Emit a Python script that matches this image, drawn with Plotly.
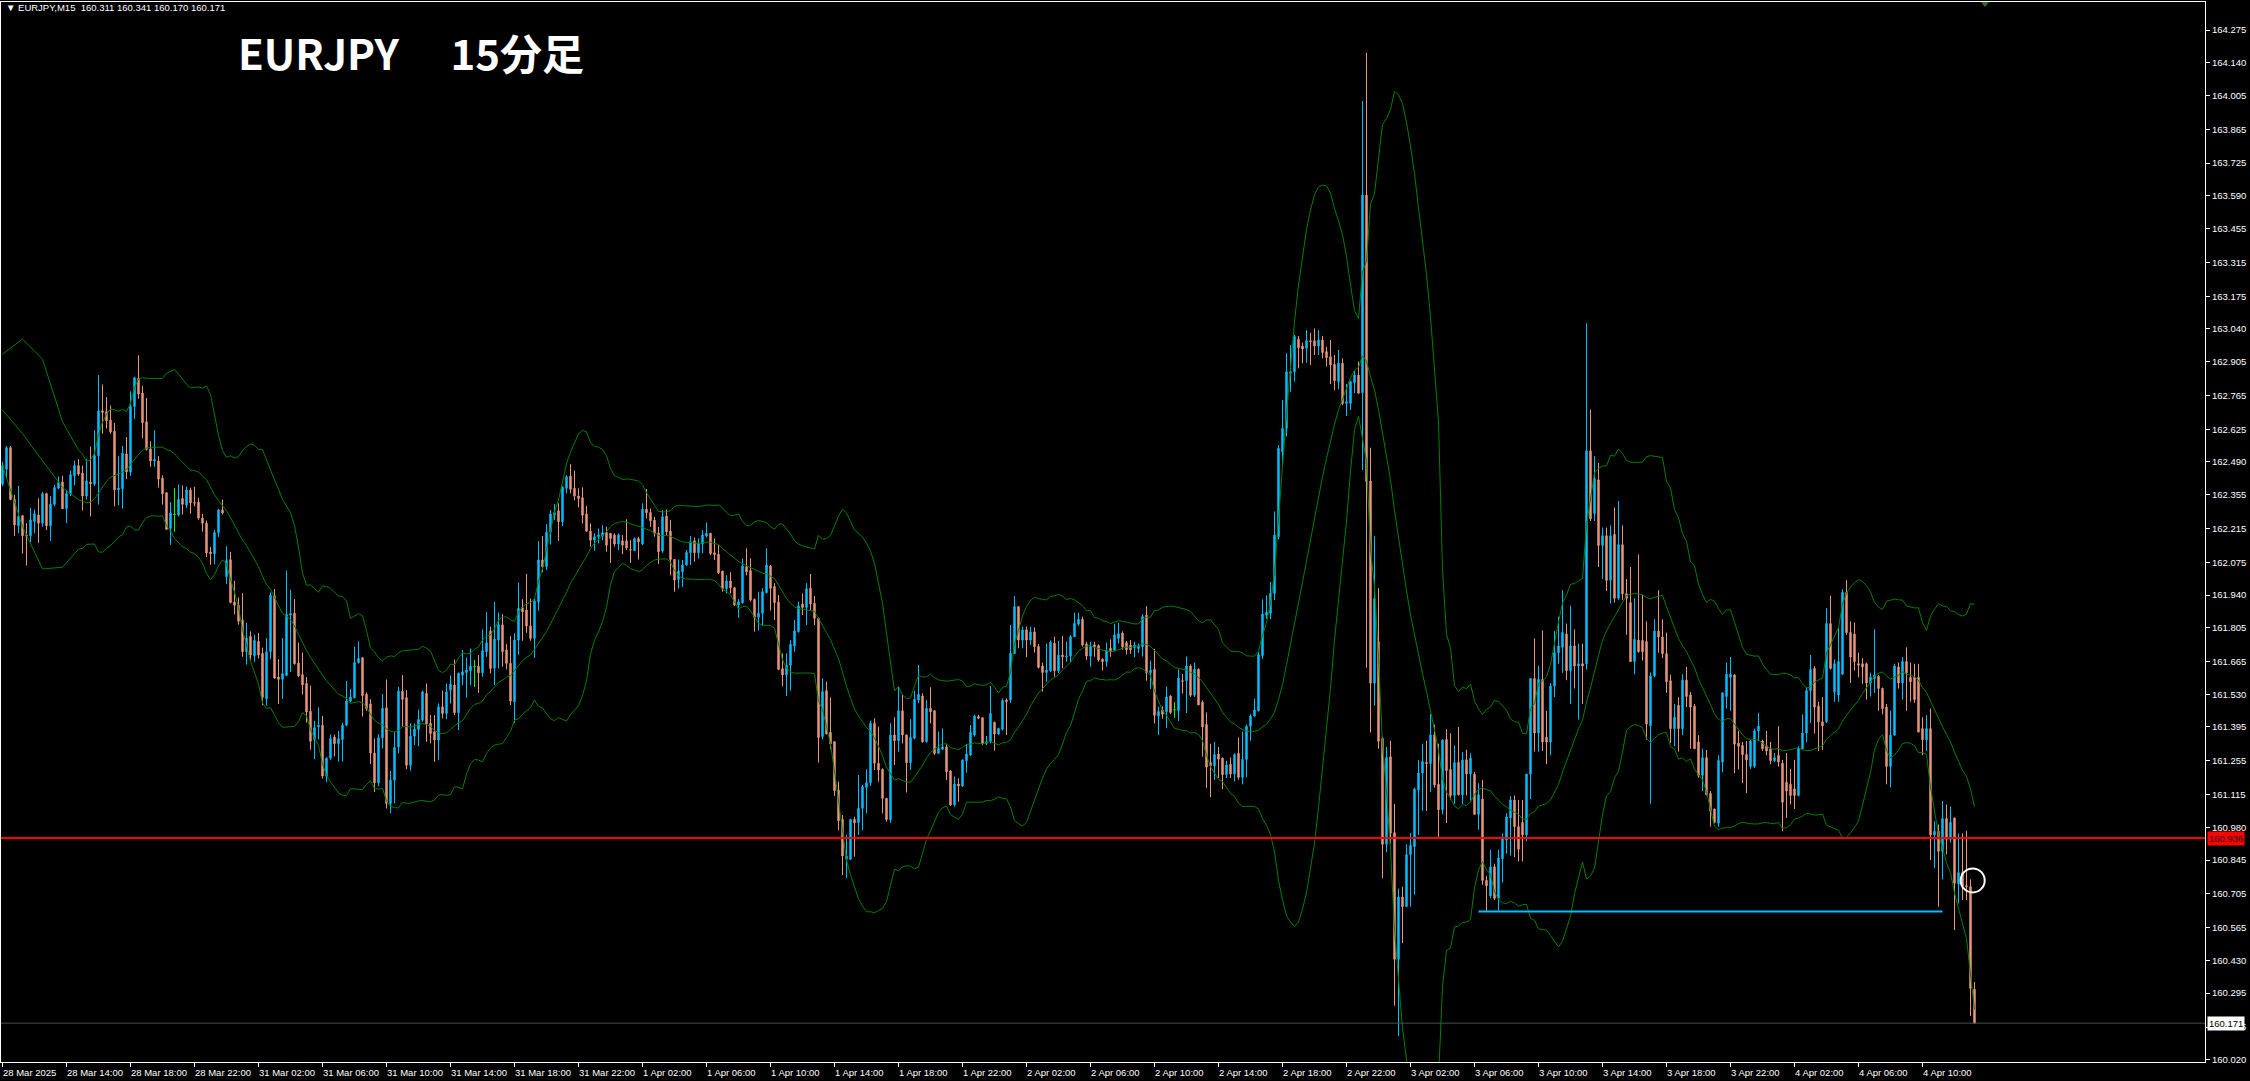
import plotly.graph_objects as go
import pandas as pd

title_text = "EURJPY\u3000\u00a015分足"
header_text = "\u25BC EURJPY,M15\u00a0\u00a0160.311 160.341 160.170 160.171"

open_ = [
162.398,162.460,162.549,162.335,162.227,162.268,162.189,162.185,162.244,162.271,
162.237,162.359,162.226,162.315,162.382,162.407,162.297,162.359,162.433,162.475,
162.444,162.349,162.407,162.398,162.516,162.701,162.698,162.663,162.617,162.375,
162.379,162.523,162.449,162.719,162.835,162.775,162.656,162.544,162.494,162.494,
162.423,162.363,162.216,162.273,162.271,162.339,162.312,162.374,162.322,162.324,
162.258,162.237,162.118,162.111,162.198,162.292,162.016,162.086,161.911,161.898,
161.836,161.706,161.769,161.689,161.748,161.699,161.511,161.706,161.937,161.601,
161.592,161.608,161.857,161.865,161.659,161.611,161.575,161.460,161.343,161.396,
161.402,161.192,161.266,161.353,161.326,161.343,161.402,161.502,161.516,161.661,
161.681,161.530,161.490,161.287,161.164,161.350,161.474,161.079,161.175,161.313,
161.543,161.516,161.237,161.357,161.385,161.423,161.534,161.410,161.375,161.341,
161.478,161.451,161.547,161.568,161.454,161.609,161.620,161.627,161.644,161.646,
161.619,161.706,161.791,161.638,161.754,161.817,161.713,161.658,161.499,161.754,
161.888,161.878,161.812,161.761,161.912,162.085,162.057,162.200,162.270,162.288,
162.243,162.381,162.432,162.381,162.349,162.342,162.275,162.204,162.167,162.181,
162.184,162.199,162.195,162.188,162.151,162.164,162.164,162.128,162.123,162.173,
162.151,162.295,162.281,162.250,162.197,162.122,162.266,162.204,162.087,162.005,
162.036,162.064,162.115,162.164,162.115,162.151,162.184,162.195,162.115,162.109,
162.039,161.967,161.998,161.970,161.899,161.908,162.057,162.041,161.922,161.848,
161.865,161.950,162.060,161.975,161.911,161.636,161.610,161.650,161.730,161.789,
161.903,161.889,161.968,161.906,161.844,161.355,161.545,161.373,161.334,161.134,
161.013,160.848,160.848,161.013,160.999,161.059,161.145,161.165,161.410,161.245,
161.220,161.100,161.011,161.362,161.338,161.462,161.362,161.247,161.348,161.506,
161.523,161.334,161.472,161.462,161.286,161.303,161.313,161.213,161.073,161.159,
161.151,161.255,161.279,161.362,161.438,161.433,161.327,161.334,161.414,161.366,
161.385,161.506,161.506,161.699,161.892,161.754,161.796,161.754,161.787,161.727,
161.647,161.620,161.627,161.741,161.627,161.692,161.685,161.688,161.768,161.820,
161.840,161.738,161.688,161.734,161.731,161.675,161.665,161.720,161.713,161.761,
161.783,161.743,161.733,161.723,161.719,161.726,161.857,161.619,161.633,161.440,
161.465,161.458,161.523,161.466,161.462,161.586,161.586,161.647,161.526,161.633,
161.497,161.405,161.248,161.234,161.283,161.266,161.198,161.241,161.201,161.286,
161.187,161.261,161.398,161.440,161.462,161.690,161.857,161.865,161.947,162.181,
162.533,162.629,162.856,162.863,162.997,162.969,162.960,162.991,162.991,162.969,
162.994,162.946,162.925,162.893,162.822,162.898,162.732,162.732,162.818,162.849,
162.776,163.593,162.411,161.576,161.747,161.348,160.910,161.272,160.958,160.435,
160.692,160.653,160.867,160.901,161.134,161.205,161.248,161.244,161.362,161.158,
161.053,161.343,161.219,161.112,161.248,161.115,161.259,161.201,161.200,161.034,
161.097,160.761,160.697,160.817,160.687,160.850,160.927,161.019,161.093,160.983,
161.000,160.949,161.200,161.595,161.370,161.591,161.352,161.333,161.564,161.702,
161.724,161.779,161.628,161.730,161.647,161.656,161.656,162.536,162.277,162.416,
162.145,162.185,162.001,162.191,161.927,162.148,161.945,161.909,161.665,161.754,
161.752,161.748,161.400,161.606,161.791,161.767,161.698,161.586,161.388,161.484,
161.388,161.588,161.527,161.481,161.333,161.195,161.268,161.120,161.056,160.997,
161.250,161.521,161.600,161.610,161.328,161.318,161.281,161.232,161.232,161.379,
161.337,161.318,161.305,161.256,161.278,161.245,161.167,161.158,161.139,161.112,
161.305,161.370,161.545,161.637,161.481,161.416,161.416,161.822,161.540,161.527,
161.613,161.951,161.785,161.779,161.656,161.656,161.656,161.577,161.595,161.604,
161.554,161.477,161.232,161.361,161.643,161.577,161.665,161.600,161.600,161.600,
161.388,161.342,161.388,160.949,160.964,160.881,161.016,160.931,161.019,160.746,
160.793,160.739,160.735,160.311]

high = [
162.491,162.556,162.556,162.354,162.391,162.271,162.237,162.300,162.293,162.340,
162.366,162.363,162.349,162.395,162.430,162.433,162.374,162.454,162.495,162.502,
162.475,162.502,162.554,162.621,162.849,162.810,162.758,162.723,162.652,162.514,
162.556,162.593,162.782,162.840,162.931,162.804,162.754,162.575,162.621,162.514,
162.435,162.363,162.324,162.382,162.397,162.393,162.388,162.384,162.388,162.342,
162.276,162.248,162.139,162.209,162.296,162.335,162.142,162.118,161.999,161.930,
161.948,161.825,161.790,161.776,161.783,161.723,161.762,161.951,161.965,161.675,
161.762,162.041,161.962,161.923,161.744,161.703,161.601,161.566,161.420,161.476,
161.441,161.270,161.364,161.364,161.378,161.413,161.585,161.552,161.727,161.748,
161.681,161.538,161.510,161.347,161.365,161.531,161.591,161.213,161.375,161.561,
161.609,161.547,161.410,161.410,161.467,161.545,161.575,161.444,161.444,161.492,
161.545,161.575,161.608,161.674,161.620,161.713,161.682,161.719,161.671,161.692,
161.798,161.870,161.809,161.912,161.867,161.861,161.737,161.770,161.782,161.992,
161.923,162.027,161.926,161.926,162.163,162.184,162.233,162.291,162.316,162.319,
162.390,162.436,162.481,162.454,162.381,162.385,162.308,162.236,162.195,162.215,
162.229,162.222,162.195,162.195,162.195,162.188,162.253,162.167,162.178,162.181,
162.319,162.378,162.298,162.263,162.222,162.291,162.294,162.250,162.089,162.087,
162.085,162.126,162.184,162.178,162.174,162.208,162.240,162.197,162.174,162.146,
162.039,162.022,162.034,161.974,161.923,162.091,162.133,162.092,161.926,161.954,
161.968,162.133,162.064,161.989,161.940,161.699,161.699,161.754,161.837,161.913,
161.947,161.989,162.027,161.936,161.847,161.596,161.582,161.517,161.334,161.169,
161.031,160.949,161.013,161.024,161.197,161.155,161.220,161.421,161.431,161.396,
161.224,161.100,161.410,161.435,161.561,161.527,161.362,161.427,161.545,161.651,
161.534,161.506,161.559,161.465,161.376,161.389,161.323,161.217,161.190,161.183,
161.261,161.325,161.403,161.445,161.445,161.435,161.358,161.564,161.417,161.389,
161.513,161.513,161.816,161.936,161.892,161.810,161.810,161.810,161.807,161.738,
161.661,161.740,161.752,161.768,161.750,161.771,161.747,161.775,161.867,161.867,
161.851,161.747,161.747,161.747,161.736,161.679,161.743,161.757,161.820,161.825,
161.790,161.751,161.754,161.747,161.740,161.861,161.894,161.669,161.718,161.479,
161.480,161.562,161.526,161.497,161.633,161.614,161.686,161.654,161.661,161.637,
161.505,161.455,161.326,161.333,161.312,161.269,161.255,161.269,161.286,161.352,
161.376,161.405,161.448,161.512,161.704,161.922,161.939,161.994,162.285,162.560,
162.746,162.939,162.973,163.015,163.011,162.983,163.035,163.024,163.042,163.035,
163.011,162.966,162.994,162.932,162.953,162.918,162.812,162.826,162.867,162.905,
163.982,164.181,162.549,162.184,161.968,161.355,161.312,161.338,161.077,160.727,
160.735,160.910,160.956,161.144,161.258,161.326,161.338,161.448,161.405,161.326,
161.343,161.386,161.369,161.319,161.395,161.291,161.301,161.286,161.210,161.162,
161.176,160.780,160.887,160.830,160.887,160.955,161.038,161.108,161.112,161.093,
161.093,161.200,161.595,161.761,161.647,161.794,161.462,161.577,161.791,161.850,
161.960,161.822,161.896,161.798,161.739,161.739,163.063,162.707,162.514,162.486,
162.219,162.219,162.228,162.302,162.329,162.228,162.006,162.056,161.927,162.108,
161.942,161.831,161.620,161.840,161.960,161.840,161.785,161.611,161.490,161.518,
161.613,161.643,161.540,161.490,161.361,161.305,161.300,161.130,161.056,161.278,
161.536,161.661,161.684,161.613,161.379,161.333,161.337,161.340,161.388,161.453,
161.342,161.379,161.333,161.287,161.398,161.259,161.287,161.222,161.259,161.315,
161.447,161.558,161.693,161.646,161.499,161.518,161.886,161.938,161.674,161.804,
161.964,162.001,161.831,161.827,161.702,161.680,161.661,161.619,161.798,161.610,
161.558,161.490,161.462,161.656,161.661,161.684,161.724,161.661,161.656,161.656,
161.435,161.444,161.471,161.005,160.992,161.089,161.075,161.066,161.019,160.955,
160.955,160.966,160.765,160.341]

low = [
162.391,162.421,162.332,162.185,162.195,162.111,162.062,162.159,162.195,162.156,
162.222,162.209,162.164,162.307,162.377,162.297,162.237,162.349,162.393,162.433,
162.290,162.335,162.265,162.391,162.314,162.607,162.628,162.606,162.307,162.311,
162.297,162.419,162.433,162.667,162.751,162.589,162.537,162.470,162.470,162.384,
162.314,162.209,162.148,162.202,162.265,162.273,162.300,162.276,162.307,162.251,
162.202,162.097,162.065,162.067,162.181,162.273,161.986,161.906,161.860,161.818,
161.685,161.653,161.671,161.664,161.678,161.485,161.483,161.675,161.594,161.490,
161.511,161.605,161.622,161.653,161.601,161.529,161.413,161.301,161.262,161.343,
161.182,161.168,161.259,161.273,161.252,161.252,161.399,161.497,161.513,161.657,
161.438,161.462,161.242,161.126,161.150,161.306,161.058,161.038,161.079,161.286,
161.396,161.220,161.214,161.320,161.316,161.416,161.334,161.327,161.251,161.258,
161.430,161.427,161.492,161.444,161.382,161.568,161.516,161.568,161.561,161.536,
161.602,161.685,161.616,161.568,161.637,161.644,161.633,161.485,161.412,161.693,
161.751,161.784,161.751,161.680,161.875,162.034,162.043,162.149,162.250,162.164,
162.225,162.360,162.360,162.332,162.302,162.236,162.202,162.140,162.123,162.153,
162.167,162.119,162.073,162.140,162.126,162.109,162.126,162.073,162.123,162.087,
162.146,162.257,162.222,162.181,162.068,162.115,162.188,162.022,161.954,161.967,
161.974,162.062,162.064,162.078,162.091,162.112,162.178,162.105,162.085,162.027,
161.954,161.947,161.947,161.894,161.846,161.905,162.022,161.913,161.789,161.793,
161.812,161.947,161.876,161.837,161.630,161.564,161.523,161.545,161.706,161.785,
161.858,161.816,161.878,161.816,161.248,161.344,161.366,161.303,161.110,160.969,
160.783,160.770,160.845,160.859,160.949,160.969,161.038,161.151,161.217,161.169,
161.038,161.004,160.999,161.238,161.293,161.327,161.124,161.217,161.344,161.493,
161.330,161.330,161.410,161.279,161.283,161.300,161.176,161.069,161.066,161.086,
161.148,161.206,161.275,161.355,161.427,161.320,161.320,161.327,161.297,161.362,
161.380,161.362,161.495,161.699,161.720,161.720,161.683,161.734,161.702,161.637,
161.541,161.582,161.623,161.603,161.617,161.637,161.665,161.661,161.768,161.812,
161.727,161.672,161.644,161.685,161.665,161.628,161.644,161.685,161.710,161.740,
161.714,161.694,161.697,161.683,161.700,161.686,161.586,161.552,161.409,161.362,
161.429,161.390,161.448,161.433,161.419,161.533,161.452,161.519,161.519,161.486,
161.272,161.144,161.105,161.177,161.184,161.138,161.184,161.184,161.170,161.177,
161.158,161.187,161.338,161.437,161.459,161.676,161.842,161.840,161.920,162.170,
162.471,162.595,162.780,162.822,162.877,162.898,162.900,162.891,162.932,162.932,
162.918,162.884,162.812,162.787,162.790,162.725,162.680,162.705,162.774,162.774,
162.457,161.640,161.372,161.483,161.305,160.770,160.877,160.913,160.243,160.117,
160.502,160.653,160.653,160.702,160.948,161.048,161.048,161.127,161.144,160.941,
161.034,160.998,161.095,161.077,161.112,161.077,161.112,161.091,161.034,160.970,
160.743,160.632,160.687,160.680,160.636,160.752,160.872,160.863,160.857,160.839,
160.839,160.924,161.097,161.293,161.293,161.296,161.241,161.278,161.518,161.656,
161.619,161.588,161.490,161.554,161.425,161.490,161.632,162.246,162.246,162.056,
162.006,161.957,161.905,161.909,161.920,161.920,161.776,161.665,161.613,161.702,
161.669,161.342,161.078,161.600,161.702,161.680,161.536,161.329,161.315,161.293,
161.361,161.477,161.305,161.305,161.186,161.130,161.112,160.983,160.997,160.983,
161.208,161.471,161.462,161.204,161.219,161.163,161.121,161.222,161.226,161.337,
161.296,161.278,161.241,161.250,161.232,160.964,161.019,161.075,161.056,161.108,
161.305,161.333,161.411,161.368,161.296,161.300,161.411,161.632,161.499,161.499,
161.610,161.776,161.577,161.628,161.600,161.573,161.508,161.521,161.536,161.462,
161.447,161.158,161.145,161.361,161.554,161.508,161.462,161.499,161.495,161.374,
161.278,161.296,160.845,160.811,160.652,160.765,160.868,160.918,160.556,160.666,
160.680,160.680,160.201,160.170]

close = [
162.475,162.549,162.335,162.230,162.265,162.185,162.185,162.250,162.276,162.237,
162.359,162.226,162.315,162.384,162.405,162.297,162.359,162.437,162.475,162.440,
162.349,162.412,162.400,162.516,162.701,162.695,162.660,162.614,162.375,162.382,
162.526,162.449,162.719,162.838,162.771,162.653,162.542,162.494,162.500,162.419,
162.359,162.212,162.279,162.273,162.335,162.315,162.374,162.321,162.320,162.258,
162.237,162.114,162.111,162.198,162.292,162.279,162.083,161.909,161.898,161.832,
161.706,161.762,161.692,161.752,161.692,161.518,161.706,161.939,161.597,161.592,
161.615,161.860,161.863,161.656,161.606,161.569,161.457,161.336,161.392,161.402,
161.192,161.266,161.347,161.326,161.346,161.402,161.502,161.519,161.661,161.678,
161.525,161.471,161.287,161.164,161.350,161.472,161.079,161.175,161.310,161.543,
161.509,161.237,161.357,161.386,161.426,161.540,161.407,161.368,161.341,161.478,
161.451,161.540,161.572,161.454,161.616,161.623,161.630,161.646,161.644,161.619,
161.710,161.743,161.637,161.758,161.817,161.706,161.658,161.502,161.754,161.885,
161.871,161.812,161.761,161.915,162.085,162.057,162.200,162.275,162.281,162.243,
162.385,162.429,162.377,162.349,162.339,162.270,162.204,162.167,162.181,162.188,
162.197,162.146,162.174,162.151,162.188,162.146,162.135,162.126,162.173,162.160,
162.295,162.280,162.247,162.195,162.119,162.263,162.202,162.087,162.002,162.039,
162.064,162.116,162.160,162.115,162.153,162.188,162.195,162.112,162.108,162.032,
161.967,161.998,161.970,161.899,161.912,162.060,162.036,161.920,161.848,161.865,
161.954,162.064,161.968,161.909,161.633,161.610,161.650,161.736,161.792,161.895,
161.889,161.966,161.903,161.844,161.351,161.541,161.366,161.325,161.132,161.008,
160.862,160.862,161.013,160.999,161.059,161.148,161.165,161.410,161.245,161.217,
161.100,161.013,161.362,161.338,161.462,161.362,161.247,161.351,161.509,161.530,
161.334,161.472,161.458,161.286,161.307,161.313,161.210,161.073,161.159,161.151,
161.258,161.283,161.373,161.440,161.431,161.327,161.334,161.451,161.366,161.389,
161.504,161.500,161.699,161.892,161.754,161.796,161.754,161.787,161.727,161.641,
161.620,161.630,161.745,161.627,161.692,161.685,161.688,161.768,161.823,161.840,
161.734,161.688,161.727,161.727,161.672,161.665,161.710,161.710,161.775,161.780,
161.726,161.714,161.714,161.733,161.728,161.851,161.619,161.629,161.443,161.459,
161.448,161.519,161.455,161.466,161.597,161.584,161.647,161.526,161.633,161.486,
161.395,161.229,161.234,161.281,161.262,161.198,161.238,161.201,161.281,161.187,
161.261,161.398,161.440,161.465,161.694,161.861,161.868,161.947,162.188,162.546,
162.629,162.863,162.863,163.008,162.962,162.957,162.991,162.987,162.969,162.994,
162.942,162.921,162.891,162.826,162.898,162.732,162.739,162.822,162.849,162.774,
163.593,162.409,161.576,161.925,161.336,160.910,161.269,160.956,160.435,160.692,
160.653,160.867,160.906,161.138,161.205,161.252,161.244,161.362,161.155,161.053,
161.341,161.215,161.112,161.248,161.115,161.258,161.201,161.266,161.034,161.115,
160.761,160.739,160.817,160.687,160.853,160.936,161.023,161.093,160.983,160.890,
160.949,161.200,161.595,161.370,161.591,161.333,161.333,161.564,161.702,161.730,
161.785,161.628,161.730,161.647,161.656,161.647,162.536,162.255,162.421,162.145,
162.185,162.001,162.185,161.927,162.148,161.945,161.927,161.665,161.757,161.706,
161.706,161.407,161.606,161.791,161.767,161.698,161.582,161.388,161.435,161.388,
161.588,161.521,161.477,161.305,161.195,161.268,161.115,161.047,161.001,161.256,
161.536,161.613,161.613,161.324,161.315,161.281,161.259,161.337,161.379,161.398,
161.305,161.296,161.256,161.268,161.250,161.084,161.130,161.112,161.112,161.305,
161.370,161.545,161.632,161.477,161.416,161.400,161.822,161.637,161.656,161.665,
161.951,161.785,161.684,161.665,161.650,161.643,161.577,161.600,161.610,161.554,
161.471,161.232,161.361,161.647,161.577,161.665,161.619,161.582,161.508,161.374,
161.342,161.388,160.949,160.964,160.881,161.016,160.931,161.001,160.749,160.793,
160.739,160.735,160.315,160.171]

doji_idx = [43, 118, 293]

bb_head_idx = [0, 5, 10, 15]
bb_head_upper = [162.935, 162.998, 162.915, 162.656]
bb_head_mid = [162.705, 162.607, 162.495, 162.384]
bb_head_lower = [162.475, 162.223, 162.048, 162.055]
bb_period = 20
bb_dev = 2.0

time_tick_idx = [0, 16, 32, 48, 64, 80, 96, 112, 128, 144, 160, 176, 192, 208, 224, 240,
                 256, 272, 288, 304, 320, 336, 352, 368, 384, 400, 416, 432, 448, 464, 480]
time_tick_labels = ["28 Mar 2025", "28 Mar 14:00", "28 Mar 18:00", "28 Mar 22:00",
                    "31 Mar 02:00", "31 Mar 06:00", "31 Mar 10:00", "31 Mar 14:00",
                    "31 Mar 18:00", "31 Mar 22:00", "1 Apr 02:00", "1 Apr 06:00",
                    "1 Apr 10:00", "1 Apr 14:00", "1 Apr 18:00", "1 Apr 22:00",
                    "2 Apr 02:00", "2 Apr 06:00", "2 Apr 10:00", "2 Apr 14:00",
                    "2 Apr 18:00", "2 Apr 22:00", "3 Apr 02:00", "3 Apr 06:00",
                    "3 Apr 10:00", "3 Apr 14:00", "3 Apr 18:00", "3 Apr 22:00",
                    "4 Apr 02:00", "4 Apr 06:00", "4 Apr 10:00"]
price_ticks = [164.275, 164.140, 164.005, 163.865, 163.725, 163.590, 163.455, 163.315,
               163.175, 163.040, 162.905, 162.765, 162.625, 162.490, 162.355, 162.215,
               162.075, 161.940, 161.805, 161.665, 161.530, 161.395, 161.255, 161.115,
               160.980, 160.845, 160.705, 160.565, 160.430, 160.295, 160.155, 160.020]

red_level = 160.936
bid_price = 160.171
support_level = 160.632
support_start, support_end = 369, 485
mark_bar, mark_price = 492.55, 160.761

BULL = "#00BFFF"
BEAR = "#E9967A"
BAND = "#008000"

bar_idx = list(range(len(close)))

# Bollinger Bands (20, 2) from closes
s = pd.Series(close)
mid = s.rolling(bb_period).mean()
sd = s.rolling(bb_period).std(ddof=0)
up = mid + bb_dev * sd
lo = mid - bb_dev * sd
start = bb_period - 1
band_x = bb_head_idx + bar_idx[start:]
band_up = bb_head_upper + list(up[start:])
band_mid = bb_head_mid + list(mid[start:])
band_lo = bb_head_lower + list(lo[start:])

fig = go.Figure()
for yv in (band_up, band_mid, band_lo):
    fig.add_trace(go.Scatter(x=band_x, y=yv, mode="lines",
                             line=dict(color=BAND, width=1), hoverinfo="skip", showlegend=False))

fig.add_trace(go.Candlestick(
    x=bar_idx, open=open_, high=high, low=low, close=close,
    increasing=dict(line=dict(color=BULL, width=1), fillcolor=BULL),
    decreasing=dict(line=dict(color=BEAR, width=1), fillcolor=BEAR),
    whiskerwidth=0, hoverinfo="skip", showlegend=False))

fig.add_trace(go.Candlestick(
    x=doji_idx, open=[open_[i] for i in doji_idx], high=[high[i] for i in doji_idx],
    low=[low[i] for i in doji_idx], close=[close[i] for i in doji_idx],
    increasing=dict(line=dict(color="#00FF00", width=1), fillcolor="#00FF00"),
    decreasing=dict(line=dict(color="#00FF00", width=1), fillcolor="#00FF00"),
    whiskerwidth=0, hoverinfo="skip", showlegend=False))

W, H = 2250, 1081
ml, mr, mt, mb = 1, 45, 2, 19
PW, PH = W - ml - mr, H - mt - mb
x_range = [-0.375, 550.625]
y_range = [160.0105, 164.3907]


def px_x(p):
    return (p - ml) / PW


def px_y(p):
    return (H - mb - p) / PH


shapes = [
    dict(type="line", xref="paper", x0=0, x1=1, yref="y", y0=bid_price, y1=bid_price,
         line=dict(color="#3F5454", width=1)),
    dict(type="line", xref="paper", x0=0, x1=1, yref="y", y0=red_level, y1=red_level,
         line=dict(color="#FF0000", width=2)),
    dict(type="line", xref="x", x0=support_start, x1=support_end, yref="y",
         y0=support_level, y1=support_level, line=dict(color=BULL, width=2)),
    dict(type="circle", xref="x", yref="y", x0=mark_bar - 3, x1=mark_bar + 3,
         y0=mark_price - 0.0496, y1=mark_price + 0.0496, line=dict(color="white", width=2)),
    dict(type="path", xref="paper", yref="paper",
         path="M %.5f %.5f L %.5f %.5f L %.5f %.5f Z" % (px_x(1981), px_y(2), px_x(1989), px_y(2),
                                                      px_x(1985), px_y(7)),
         fillcolor="#2E6B2E", line=dict(width=0)),
]

ann = []
for ti, tl in zip(time_tick_idx, time_tick_labels):
    ann.append(dict(x=ti - 0.3, xref="x", y=0, yref="paper", text=tl, showarrow=False,
                    xanchor="left", yanchor="top", yshift=-3,
                    font=dict(family="Liberation Sans", size=9.5, color="white")))
ann.append(dict(x=1, xref="paper", xanchor="left", xshift=2, y=red_level, yref="y",
                text="160.936", showarrow=False, bgcolor="#FF0000", borderpad=1,
                font=dict(family="Liberation Sans", size=9.5, color="#200000")))
ann.append(dict(x=1, xref="paper", xanchor="left", xshift=2, y=bid_price, yref="y",
                text="160.171", showarrow=False, bgcolor="white", borderpad=1,
                font=dict(family="Liberation Sans", size=9.5, color="black")))
ann.append(dict(x=px_x(4), xref="paper", xanchor="left", y=px_y(8), yref="paper", yanchor="middle",
                text=header_text, showarrow=False,
                font=dict(family="Liberation Sans", size=9.5, color="white")))
ann.append(dict(x=px_x(236), xref="paper", xanchor="left", y=px_y(52), yref="paper", yanchor="middle",
                text="<b>" + title_text + "</b>", showarrow=False,
                font=dict(family="Noto Sans CJK JP", size=42, color="white")))

fig.update_layout(
    width=W, height=H, margin=dict(l=ml, r=mr, t=mt, b=mb, autoexpand=False),
    paper_bgcolor="black", plot_bgcolor="black",
    showlegend=False, hovermode=False, boxgap=0.5,
    shapes=shapes, annotations=ann,
    xaxis=dict(range=x_range, showgrid=False, zeroline=False, showline=True, mirror=True,
               linecolor="white", linewidth=1, ticks="outside", ticklen=4, tickcolor="white",
               tickvals=time_tick_idx, showticklabels=False, fixedrange=True,
               rangeslider=dict(visible=False)),
    yaxis=dict(range=y_range, side="right", showgrid=False, zeroline=False, showline=True,
               mirror=True, linecolor="white", linewidth=1, ticks="outside", ticklen=4,
               tickcolor="white", tickvals=price_ticks,
               ticktext=["%.3f" % v for v in price_ticks],
               tickfont=dict(family="Liberation Sans", size=9.5, color="white"), fixedrange=True),
)

fig.write_html("out.html", config={"displayModeBar": False},
               post_script="document.body.style.margin='0';document.body.style.overflow='hidden';"
                           "document.documentElement.style.background='black';")
